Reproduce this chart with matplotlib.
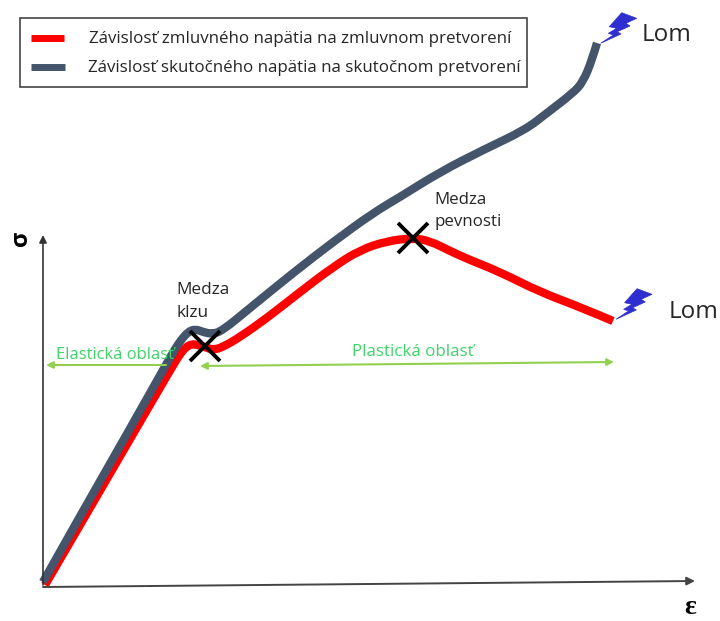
import matplotlib
matplotlib.use('Agg')
import matplotlib.pyplot as plt
from matplotlib.patches import Polygon, Rectangle, PathPatch
from matplotlib.path import Path

# Curves, in image pixels
red_x = [45, 87, 130, 172, 180, 186, 192, 198, 205, 213, 223, 240, 267, 300, 333, 360, 387, 413, 430, 450, 470, 500, 540, 580, 613]
red_y = [585, 513, 439, 367, 354, 347, 344, 345, 347, 350, 347, 337, 318, 292, 267, 250, 241, 238, 241, 251, 260, 272, 292, 307, 321]
grey_x = [43, 83, 127, 167, 175, 181, 188, 195, 203, 212, 222, 250, 293, 333, 373, 400, 440, 483, 525, 547, 573, 583, 592, 597]
grey_y = [582, 511, 434, 363, 349, 340, 332, 329, 332, 334, 331, 308, 273, 242, 213, 197, 172, 150, 130, 113, 93, 82, 60, 43]

# Break points: pixel positions of the two crosses
break_x = [205, 413]
break_y = [346, 238]

# Lightning bolt outline
bolt_x = [621.7, 609.3, 616.7, 608.3, 613.3, 600.7, 621, 617.3, 630, 626, 636.7]
bolt_y = [12.7, 26.7, 28.3, 33.3, 35, 43.3, 34, 31.7, 26, 23.3, 18.3]
bolt_offsets = [(0, 0), (15.3, 276)]

legend_labels = ['Závislosť zmluvného napätia na zmluvnom pretvorení',
                 'Závislosť skutočného napätia na skutočnom pretvorení']

RED = '#ff0000'
GREY = '#44546a'
BOLT = '#2f2fd0'
ARROW_GREEN = '#92d050'
TEXT_GREEN = '#3fd468'
TEXT = '#262626'

plt.rcParams['font.family'] = ['Open Sans', 'DejaVu Sans']


def smooth_curve(ax, xs, ys, color, lw):
    # Read points become the control points of quadratic curves, so the line has no kinks
    pts = list(zip(xs, ys))
    verts = [pts[0]]
    codes = [Path.MOVETO]
    for i in range(1, len(pts) - 1):
        nxt = pts[i + 1] if i == len(pts) - 2 else ((pts[i][0] + pts[i + 1][0]) / 2, (pts[i][1] + pts[i + 1][1]) / 2)
        verts += [pts[i], nxt]
        codes += [Path.CURVE3, Path.CURVE3]
    ax.add_patch(PathPatch(Path(verts, codes), fill=False, edgecolor=color, lw=lw, capstyle='butt', joinstyle='round'))


fig = plt.figure(figsize=(7.2, 6.21), dpi=100)
ax = fig.add_axes([0, 0, 1, 1])
ax.set_xlim(0, 720)
ax.set_ylim(621, 0)
ax.axis('off')

# Axes arrows
ax.annotate('', xy=(43, 235), xytext=(43, 585),
            arrowprops=dict(arrowstyle='-|>', color='#333333', lw=1.2, mutation_scale=11, shrinkA=0, shrinkB=0))
ax.annotate('', xy=(695, 581), xytext=(43, 587),
            arrowprops=dict(arrowstyle='-|>', color='#444444', lw=1.4, mutation_scale=12, shrinkA=0, shrinkB=0))

# Green region arrows
ax.annotate('', xy=(46, 365), xytext=(166, 365),
            arrowprops=dict(arrowstyle='-|>', color=ARROW_GREEN, lw=1.5, mutation_scale=10, shrinkA=0, shrinkB=0))
ax.annotate('', xy=(200, 366), xytext=(614, 362),
            arrowprops=dict(arrowstyle='<|-|>', color=ARROW_GREEN, lw=1.5, mutation_scale=10, shrinkA=0, shrinkB=0))

# Curves
smooth_curve(ax, red_x, red_y, RED, 6)
smooth_curve(ax, grey_x, grey_y, GREY, 6)

# Crosses
ax.plot(break_x, break_y, linestyle='none', marker='x', color='black', ms=21.5, mew=2.8, zorder=5)

# Lightning bolts
for dx, dy in bolt_offsets:
    pts = [(x + dx, y + dy) for x, y in zip(bolt_x, bolt_y)]
    ax.add_patch(Polygon(pts, closed=True, facecolor=BOLT, edgecolor=BOLT, lw=0.5))

# Legend box drawn by hand
ax.add_patch(Rectangle((20, 18), 507, 69, facecolor='white', edgecolor='#444444', lw=1.2, zorder=3))
ax.plot([31, 64], [38, 38], color=RED, lw=5, zorder=4, solid_capstyle='butt')
ax.plot([31, 65], [67, 67], color=GREY, lw=5, zorder=4, solid_capstyle='butt')
ax.text(89, 39, legend_labels[0], fontsize=12.2, color=TEXT, va='center', zorder=4)
ax.text(88, 68, legend_labels[1], fontsize=12.2, color=TEXT, va='center', zorder=4)

# Labels
ax.text(642, 35, 'Lom', fontsize=17.5, color=TEXT, va='center')
ax.text(669, 312, 'Lom', fontsize=17.5, color=TEXT, va='center')
ax.text(176, 290, 'Medza', fontsize=12.4, color=TEXT, va='center')
ax.text(176, 313, 'klzu', fontsize=12.4, color=TEXT, va='center')
ax.text(434, 200, 'Medza', fontsize=12.2, color=TEXT, va='center')
ax.text(434, 222, 'pevnosti', fontsize=12.2, color=TEXT, va='center')
ax.text(56, 355, 'Elastická oblasť', fontsize=12, color=TEXT_GREEN, va='center')
ax.text(352, 352, 'Plastická oblasť', fontsize=12.2, color=TEXT_GREEN, va='center')
ax.text(21, 238, 'σ', fontsize=17, fontweight='bold', color='black', rotation=90, ha='center', va='center')
ax.text(690, 608, 'ε', fontsize=20, fontweight='bold', family='Liberation Serif', color='black', ha='center', va='center')

fig.savefig('out.png', dpi=100)
